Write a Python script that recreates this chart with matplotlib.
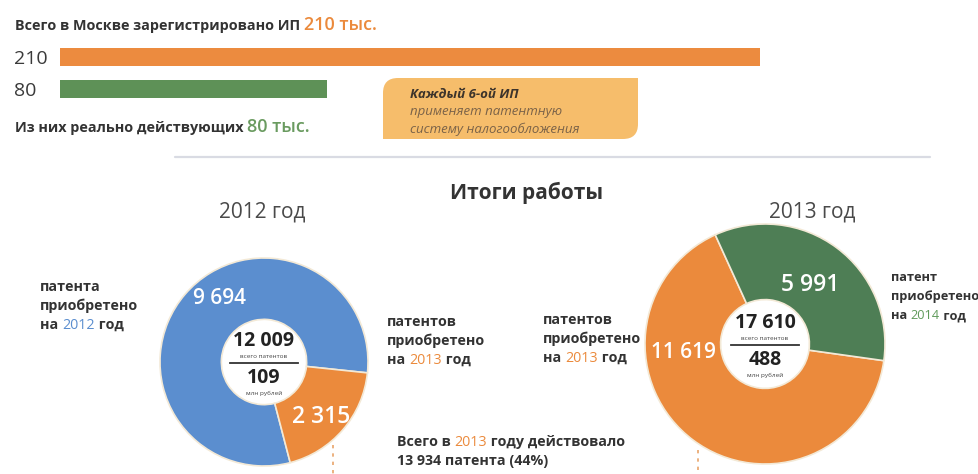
import matplotlib
matplotlib.use('Agg')
import numpy as np
import matplotlib.pyplot as plt
from matplotlib.path import Path
from matplotlib.patches import PathPatch

plt.rcParams['font.family'] = ['Open Sans', 'DejaVu Sans']

# --- data ---
bar_values = [210, 80]
bar_colors = ['#EC8B3F', '#5E9157']
total_registered = 210
total_active = 80

years = ['2012 год', '2013 год']
donut_2012 = [9694, 2315]     # на 2012 год, на 2013 год
donut_2013 = [11619, 5991]    # на 2013 год, на 2014 год
patents_total = [12009, 17610]
revenue_mln = [109, 488]
active_2013 = 13934
active_share = 44

BLUE = '#5B8ECF'
ORANGE = '#EB8A3C'
GREEN = '#4E7E55'
DARK = '#333333'

W, H = 979, 474
fig = plt.figure(figsize=(W / 100, H / 100), dpi=100)
fig.patch.set_facecolor('white')

# pixel canvas for free text and shapes
ax0 = fig.add_axes([0, 0, 1, 1])
ax0.set_xlim(0, W)
ax0.set_ylim(H, 0)
ax0.axis('off')

renderer = fig.canvas.get_renderer()


def fmt(v):
    return f'{v:,}'.replace(',', ' ')


def rich(x, y, parts, size, weight='bold', style='normal'):
    # draw coloured pieces one after another on the same baseline
    bar = ax0.text(0, 0, '|', fontsize=size, fontweight=weight, fontstyle=style)
    bw = bar.get_window_extent(renderer).width
    bar.remove()
    for part in parts:
        s, c = part[0], part[1]
        sz = part[2] if len(part) > 2 else size
        wt = part[3] if len(part) > 3 else weight
        ax0.text(x, y, s, color=c, fontsize=sz, fontweight=wt, fontstyle=style,
                 va='baseline', ha='left')
        m = ax0.text(0, 0, s + '|', fontsize=sz, fontweight=wt, fontstyle=style)
        x += m.get_window_extent(renderer).width - bw
        m.remove()


# --- top block: bars ---
rich(15, 30, [('Всего в Москве зарегистрировано ИП ', DARK),
              (f'{total_registered} тыс.', ORANGE, 13, 'semibold')], 10.4)
rich(15, 132, [('Из них реально действующих ', DARK),
               (f'{total_active} тыс.', '#6A9B60', 13, 'semibold')], 10.4)

axb = fig.add_axes([60 / W, 1 - 105 / H, 700 / W, 64 / H])
axb.barh(range(len(bar_values)), bar_values, height=0.57, color=bar_colors)
axb.set_xlim(0, 210)
axb.set_ylim(1.5, -0.5)
axb.set_yticks(range(len(bar_values)), labels=[str(v) for v in bar_values])
axb.tick_params(axis='y', length=0, pad=33, labelsize=14, labelcolor='#3a3a3a')
for lbl in axb.get_yticklabels():
    lbl.set_horizontalalignment('left')
axb.set_xticks([])
for sp in axb.spines.values():
    sp.set_visible(False)
axb.patch.set_alpha(0)

# callout box: rounded top-left and bottom-right corners
x0, x1, y0, y1, r = 383, 638, 78, 139, 15
verts = [(x0, y0 + r), (x0, y0), (x0 + r, y0), (x1, y0), (x1, y1 - r),
         (x1, y1), (x1 - r, y1), (x0, y1), (x0, y0 + r)]
codes = [Path.MOVETO, Path.CURVE3, Path.CURVE3, Path.LINETO, Path.LINETO,
         Path.CURVE3, Path.CURVE3, Path.LINETO, Path.CLOSEPOLY]
ax0.add_patch(PathPatch(Path(verts, codes), facecolor='#F6BD6B', edgecolor='none'))
ax0.text(410, 98, 'Каждый 6-ой ИП', fontsize=9.5, fontweight='bold', fontstyle='italic',
         color='#3d342b', va='baseline')
ax0.text(410, 115, 'применяет патентную', fontsize=9.5, fontstyle='italic',
         color='#7a6248', va='baseline')
ax0.text(410, 133, 'систему налогообложения', fontsize=9.5, fontstyle='italic',
         color='#7a6248', va='baseline')

# separator
ax0.plot([175, 930], [157, 157], color='#d9dbe3', lw=1.6, solid_capstyle='round')

# --- results ---
ax0.text(527, 193, 'Итоги работы', fontsize=15, fontweight='bold', color=DARK,
         ha='center', va='center')
ax0.text(262, 212, years[0], fontsize=15, color='#4a4a4a', ha='center', va='center')
ax0.text(812, 212, years[1], fontsize=15, color='#4a4a4a', ha='center', va='center')


def donut(cx, cy, rad, hole, values, colors, start, label_pos, total, rev):
    ax = fig.add_axes([(cx - rad) / W, 1 - (cy + rad) / H, 2 * rad / W, 2 * rad / H])
    ax.pie(values, colors=colors, startangle=start, counterclock=True,
           radius=1, wedgeprops=dict(width=1 - hole, edgecolor='#f3e9d6', linewidth=1.2))
    ax.set_xlim(-1, 1)
    ax.set_ylim(-1, 1)
    ax.set_aspect('equal')
    ax.axis('off')
    for v, (ang, dist, sz) in zip(values, label_pos):
        a = np.deg2rad(ang)
        ax.text(dist * np.cos(a), dist * np.sin(a), fmt(v), color='white',
                fontsize=sz, fontweight='semibold', ha='center', va='center')
    px = 1 / rad
    ax.text(0, 21 * px, fmt(total), fontsize=14, fontweight='bold', color='#222222',
            ha='center', va='center')
    ax.text(0, 6 * px, 'всего патентов', fontsize=4.6, color='#444444',
            ha='center', va='center')
    ax.plot([-34 * px, 34 * px], [-1 * px, -1 * px], color='#333333', lw=1.3)
    ax.text(0, -16 * px, str(rev), fontsize=14, fontweight='bold', color='#222222',
            ha='center', va='center')
    ax.text(0, -31 * px, 'млн рублей', fontsize=4.6, color='#444444',
            ha='center', va='center')


donut(264, 362, 104, 0.41, donut_2012, [BLUE, ORANGE], -6,
      [(125, 0.74, 15), (-44, 0.76, 16.5)], patents_total[0], revenue_mln[0])
donut(765, 344, 120, 0.37, donut_2013, [ORANGE, GREEN], 114.5,
      [(186, 0.68, 15), (53, 0.62, 16.5)], patents_total[1], revenue_mln[1])


# side labels
def side(x, y, first, year, color, size=10.3):
    ax0.text(x, y, first, fontsize=size, fontweight='bold', color=DARK, va='baseline')
    ax0.text(x, y + 19, 'приобретено', fontsize=size, fontweight='bold', color=DARK,
             va='baseline')
    rich(x, y + 38, [('на ', DARK), (year, color, size, 'normal'), (' год', DARK)], size)


side(40, 291, 'патента', '2012', BLUE)
side(387, 326, 'патентов', '2013', ORANGE)
side(543, 324, 'патентов', '2013', ORANGE)
side(891, 281, 'патент', '2014', '#5F9A5A', size=9.2)

# bottom note
rich(397, 446, [('Всего в ', DARK), ('2013', ORANGE, 10.3, 'normal'),
                (' году действовало', DARK)], 10.3)
ax0.text(397, 465, f'{fmt(active_2013)} патента ({active_share}%)', fontsize=10.3,
         fontweight='bold', color=DARK, va='baseline')
ax0.plot([333, 333], [445, 474], color='#E9A46A', lw=1.2, ls=(0, (2, 3)))
ax0.plot([698, 698], [450, 474], color='#E9A46A', lw=1.2, ls=(0, (2, 3)))

fig.savefig('out.png', dpi=100, facecolor='white')
